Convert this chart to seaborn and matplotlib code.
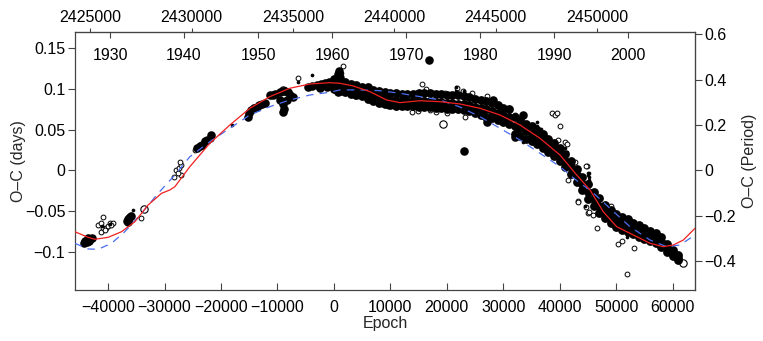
import numpy as np
import pandas as pd
import seaborn as sns
import matplotlib.pyplot as plt
from matplotlib.ticker import FixedLocator, FuncFormatter

# ---- data ----
# dense band of big filled points (epoch, upper / middle / lower edge in days)
band_epoch = [0, 1000, 2000, 3000, 4000, 5000, 6000, 7000, 8000, 9000,
              10000, 11000, 12000, 13000, 14000, 15000, 16000, 17000, 18000, 19000,
              20000, 21000, 22000, 23000, 24000, 25000, 26000, 27000, 28000, 29000,
              30000, 31000, 32000, 33000, 34000, 35000, 36000, 37000, 38000, 39000,
              40000, 41000, 42000, 43000, 44000, 45000, 46000, 47000, 48000, 49000,
              50000, 51000, 52000, 53000, 54000, 55000, 56000, 57000, 58000, 59000,
              60000, 61000]
band_hi = [0.112, 0.111, 0.108, 0.106, 0.105, 0.103, 0.102, 0.099, 0.098, 0.096,
           0.095, 0.095, 0.094, 0.094, 0.094, 0.095, 0.095, 0.095, 0.094, 0.094,
           0.093, 0.093, 0.092, 0.091, 0.090, 0.088, 0.087, 0.085, 0.083, 0.080,
           0.077, 0.075, 0.065, 0.062, 0.057, 0.054, 0.050, 0.045, 0.039, 0.034,
           0.028, 0.020, 0.012, 0.002, -0.008, -0.017, -0.026, -0.034, -0.042, -0.048,
           -0.053, -0.057, -0.060, -0.064, -0.067, -0.070, -0.074, -0.077, -0.082, -0.090,
           -0.097, -0.104]
band_mid = [0.106, 0.104, 0.102, 0.100, 0.099, 0.097, 0.095, 0.092, 0.090, 0.088,
            0.087, 0.086, 0.085, 0.085, 0.085, 0.085, 0.085, 0.085, 0.084, 0.084,
            0.083, 0.083, 0.082, 0.081, 0.080, 0.078, 0.077, 0.075, 0.073, 0.071,
            0.068, 0.066, 0.055, 0.052, 0.048, 0.045, 0.041, 0.036, 0.031, 0.026,
            0.020, 0.012, 0.004, -0.006, -0.016, -0.026, -0.035, -0.043, -0.050, -0.056,
            -0.061, -0.065, -0.068, -0.071, -0.074, -0.077, -0.080, -0.083, -0.088, -0.095,
            -0.101, -0.107]
band_lo = [0.100, 0.097, 0.096, 0.094, 0.093, 0.091, 0.088, 0.085, 0.083, 0.081,
           0.080, 0.079, 0.079, 0.079, 0.079, 0.078, 0.078, 0.078, 0.077, 0.077,
           0.076, 0.076, 0.075, 0.074, 0.073, 0.070, 0.068, 0.066, 0.064, 0.062,
           0.059, 0.057, 0.045, 0.042, 0.039, 0.036, 0.032, 0.027, 0.023, 0.018,
           0.012, 0.004, -0.004, -0.014, -0.024, -0.035, -0.044, -0.052, -0.058, -0.064,
           -0.069, -0.073, -0.076, -0.078, -0.081, -0.084, -0.086, -0.089, -0.094, -0.100,
           -0.105, -0.110]

# big filled points outside the band
big_epoch = [-44200, -44000, -43800, -43600, -43400, -43200, -42800,
             -36700, -36500, -36400, -36200, -35900,
             -24300, -23800, -23400, -22900, -22400, -21700,
             -15200, -15100, -14600, -14100, -13700, -13200, -12800, -12200,
             -11300, -10800, -10400, -9600, -9000, -8700, -8100, -9500, -9000, -8900,
             -9100, -8300, -7700, -7300,
             -4500, -3800, -3000, -2300, -1600, -900, -400, -2500, -1200,
             700, 900, 1100, 700,
             16900, 23000, 14650, 28200, 27050, 33500, 32060]
big_oc = [-0.089, -0.086, -0.088, -0.083, -0.086, -0.084, -0.083,
          -0.062, -0.060, -0.063, -0.058, -0.056,
          0.027, 0.030, 0.031, 0.036, 0.037, 0.043,
          0.066, 0.070, 0.074, 0.077, 0.078, 0.080, 0.082, 0.083,
          0.092, 0.093, 0.094, 0.096, 0.097, 0.098, 0.096, 0.087, 0.082, 0.076,
          0.072, 0.086, 0.092, 0.090,
          0.102, 0.104, 0.105, 0.106, 0.107, 0.108, 0.109, 0.101, 0.103,
          0.118, 0.122, 0.113, 0.096,
          0.136, 0.024, 0.094, 0.087, 0.060, 0.068, 0.0415]

# small filled points
small_epoch = [-35500, -41000, -39700, -18000, -6300, -3800, 500, 1400, 1500, 1400,
               21600, 21600, 23000, 35900, 35900, 33400, 41200, 40900, 45050, 45050,
               44460, 45200, 45200, 45200, 45300, 41800, 51850, 36700, 37000]
small_oc = [-0.049, -0.068, -0.066, 0.056, 0.108, 0.117, 0.095, 0.120, 0.116, 0.112,
            0.103, 0.097, 0.097, 0.060, 0.054, 0.035, 0.023, 0.028, -0.003, -0.006,
            -0.044, -0.0034, -0.008, -0.012, -0.016, 0.010, -0.081, 0.051, 0.047]

# open circles
open_epoch = [-40975, -41755, -41164, -40876, -40273, -39983, -39682, -39097, -41164, -40573, -39400,
              -36000, -36300, -34243,
              -28400, -27900, -27400, -27100, -27050, -27200, -27600,
              -24600, -21700, -13000, -14300, -10400, -6300,
              1650, 2500, 3700, 2900, 1000,
              13765, 14934, 17006, 18000, 19965, 23207, 17588, 19600, 21736, 22900,
              24393, 15643, 16247, 11000, 9500, 6500, 8500,
              27050, 32000, 38600, 39200, 39450, 40036, 39745, 40922, 41300, 42690,
              41508, 44755, 44582, 45051, 43278, 43172, 44642, 45226, 45935, 46644,
              50370, 51079, 53197, 51965, 48893, 47000, 49000, 56500, 58300]
open_oc = [-0.057, -0.067, -0.064, -0.071, -0.071, -0.068, -0.064, -0.064, -0.075, -0.073, -0.067,
           -0.054, -0.056, -0.058,
           -0.008, 0.000, 0.003, 0.007, -0.006, 0.011, -0.003,
           0.025, 0.039, 0.082, 0.078, 0.094, 0.113,
           0.128, 0.101, 0.091, 0.097, 0.099,
           0.072, 0.073, 0.074, 0.072, 0.070, 0.066, 0.095, 0.095, 0.101, 0.097,
           0.095, 0.106, 0.100, 0.078, 0.079, 0.088, 0.082,
           0.091, 0.068, 0.070, 0.068, 0.070, 0.055, 0.037, 0.035, 0.033, 0.011,
           -0.012, 0.005, 0.006, -0.0525, -0.038, -0.039, -0.045, -0.0505, -0.054, -0.071,
           -0.090, -0.0865, -0.0955, -0.127, -0.046, -0.035, -0.044, -0.079, -0.088]

# larger open circles
open_big_epoch = [19363, 61878, -9000, -33660]
open_big_oc = [0.0567, -0.114, 0.099, -0.047]

# red solid model curve
red_epoch = [-45882, -43526, -42339, -39983, -37609, -35253, -32897, -30523, -29053, -28167,
             -25510, -21967, -18424, -14881, -11338, -7795, -4252, -709, 1063, 3419,
             6377, 9336, 11692, 15235, 18778, 22321, 25864, 29407, 32950, 36493,
             40036, 42994, 45350, 47706, 50081, 53021, 55979, 58335, 60107, 61878, 63951]
red_oc = [-0.0751, -0.0820, -0.0844, -0.0820, -0.0751, -0.0628, -0.0423, -0.0280, -0.0239, -0.0199,
          0.0047, 0.0334, 0.0558, 0.0763, 0.0906, 0.1009, 0.1061, 0.1077, 0.1070, 0.1037,
          0.0967, 0.0865, 0.0832, 0.0856, 0.0844, 0.0816, 0.0763, 0.0681, 0.0558, 0.0395,
          0.0190, -0.0055, -0.0239, -0.0506, -0.0690, -0.0791, -0.0893, -0.0935, -0.0914, -0.0853, -0.0709]

# blue dashed model curve
blue_epoch = [-45882, -43526, -41755, -39381, -37025, -34067, -31126, -28167, -25510, -21967,
              -18424, -14881, -11338, -7795, -4252, -709, 1063, 4606, 8149, 11692,
              15235, 18778, 22321, 25864, 29407, 32950, 36493, 40036, 43579, 45350,
              48893, 52436, 55979, 58938, 61295, 63951]
blue_oc = [-0.0893, -0.0963, -0.0967, -0.0893, -0.0751, -0.0525, -0.0280, -0.0055, 0.0169, 0.0353,
           0.0518, 0.0681, 0.0783, 0.0865, 0.0926, 0.0960, 0.0988, 0.0988, 0.0979, 0.0947,
           0.0906, 0.0865, 0.0779, 0.0660, 0.0518, 0.0374, 0.0211, 0.0047, -0.0157, -0.0239,
           -0.0464, -0.0690, -0.0853, -0.0935, -0.0914, -0.0791]

x_ticks = [-40000, -30000, -20000, -10000, 0, 10000, 20000, 30000, 40000, 50000, 60000]
y_ticks = [-0.1, -0.05, 0, 0.05, 0.1, 0.15]
period_ticks = [-0.4, -0.2, 0, 0.2, 0.4, 0.6]
jd_ticks = [2425000, 2430000, 2435000, 2440000, 2445000, 2450000]
year_ticks = [1930, 1940, 1950, 1960, 1970, 1980, 1990, 2000]

# ephemeris used for the top / right axes
P = 0.2786
JD0 = 2437024.0


def epoch_to_jd(e):
    return JD0 + P * np.asarray(e, dtype=float)


def jd_to_epoch(j):
    return (np.asarray(j, dtype=float) - JD0) / P


def epoch_to_year(e):
    return 2000.0 + (epoch_to_jd(e) - 2451545.0) / 365.25


def year_to_epoch(y):
    return jd_to_epoch((np.asarray(y, dtype=float) - 2000.0) * 365.25 + 2451545.0)


def minus_fmt(v, pos):
    return ('%g' % v).replace('-', '\u2212')


sns.set_style('ticks')
plt.rcParams['font.family'] = ['Liberation Sans', 'DejaVu Sans']
plt.rcParams['font.size'] = 11.5

fig = plt.figure(figsize=(7.63, 3.41), dpi=100)
ax = fig.add_axes([0.0983, 0.1496, 0.8126, 0.7566])

df_band = pd.DataFrame({'epoch': band_epoch * 3, 'oc': band_hi + band_mid + band_lo})
df_big = pd.DataFrame({'epoch': big_epoch, 'oc': big_oc})
df_small = pd.DataFrame({'epoch': small_epoch, 'oc': small_oc})
df_open = pd.DataFrame({'epoch': open_epoch, 'oc': open_oc})
df_open_big = pd.DataFrame({'epoch': open_big_epoch, 'oc': open_big_oc})

# open circles first so the dense black band covers them, as in the original
sns.scatterplot(data=df_open, x='epoch', y='oc', ax=ax, s=12, color='white',
                edgecolor='black', linewidth=0.7, zorder=1)
sns.scatterplot(data=df_open_big, x='epoch', y='oc', ax=ax, s=28, color='white',
                edgecolor='black', linewidth=0.8, zorder=1)
sns.scatterplot(data=df_band, x='epoch', y='oc', ax=ax, s=40, color='black',
                edgecolor='black', linewidth=0, zorder=2)
sns.scatterplot(data=df_big, x='epoch', y='oc', ax=ax, s=38, color='black',
                edgecolor='black', linewidth=0, zorder=2)
sns.scatterplot(data=df_small, x='epoch', y='oc', ax=ax, s=7, color='black',
                edgecolor='black', linewidth=0, zorder=2)

sns.lineplot(x=blue_epoch, y=blue_oc, ax=ax, color='#4a6cf0', lw=0.9,
             linestyle=(0, (6, 5)), sort=False, zorder=4)
sns.lineplot(x=red_epoch, y=red_oc, ax=ax, color='#f02020', lw=0.9, sort=False, zorder=5)

ax.set_xlim(-45850, 63950)
ax.set_ylim(-0.1466, 0.1699)

ax.xaxis.set_major_locator(FixedLocator(x_ticks))
ax.xaxis.set_major_formatter(FuncFormatter(minus_fmt))
ax.yaxis.set_major_locator(FixedLocator(y_ticks))
ax.yaxis.set_major_formatter(FuncFormatter(minus_fmt))
ax.tick_params(axis='x', direction='in', length=5, width=0.8, colors='#444444',
               labelcolor='black', labelsize=11.5, pad=7)
ax.tick_params(axis='y', direction='out', length=5, width=0.8, colors='#444444',
               labelcolor='black', labelsize=11.5, pad=2)
for sp in ax.spines.values():
    sp.set_color('#444444')
    sp.set_linewidth(0.9)

ax.set_xlabel('Epoch', fontsize=11.5, labelpad=1)
ax.set_ylabel('O\u2013C (days)', fontsize=11.5, labelpad=-1)

# right axis in units of the period
ax_r = ax.secondary_yaxis('right', functions=(lambda d: d / P, lambda c: c * P))
ax_r.yaxis.set_major_locator(FixedLocator(period_ticks))
ax_r.yaxis.set_major_formatter(FuncFormatter(minus_fmt))
ax_r.tick_params(direction='out', length=5, width=0.8, colors='#444444',
                 labelcolor='black', labelsize=11.5, pad=2)
ax_r.set_ylabel('O\u2013C (Period)', fontsize=11.5, labelpad=4)
ax_r.spines['right'].set_color('#444444')

# top axis: Julian date, outside
ax_jd = ax.secondary_xaxis('top', functions=(epoch_to_jd, jd_to_epoch))
ax_jd.xaxis.set_major_locator(FixedLocator(jd_ticks))
ax_jd.xaxis.set_major_formatter(FuncFormatter(lambda v, pos: '%d' % round(v)))
ax_jd.tick_params(direction='out', length=3, width=0.8, colors='#444444',
                  labelcolor='black', labelsize=11.5, pad=2)
ax_jd.spines['top'].set_color('#444444')

# top axis: calendar years, ticks and labels inside the frame
ax_yr = ax.secondary_xaxis('top', functions=(epoch_to_year, year_to_epoch))
ax_yr.xaxis.set_major_locator(FixedLocator(year_ticks))
ax_yr.xaxis.set_major_formatter(FuncFormatter(lambda v, pos: '%d' % round(v)))
ax_yr.tick_params(direction='in', length=4, width=0.8, colors='#444444',
                  labelcolor='black', labelsize=11.5, pad=-22)
ax_yr.spines['top'].set_visible(False)

fig.savefig('out.png', dpi=100)
